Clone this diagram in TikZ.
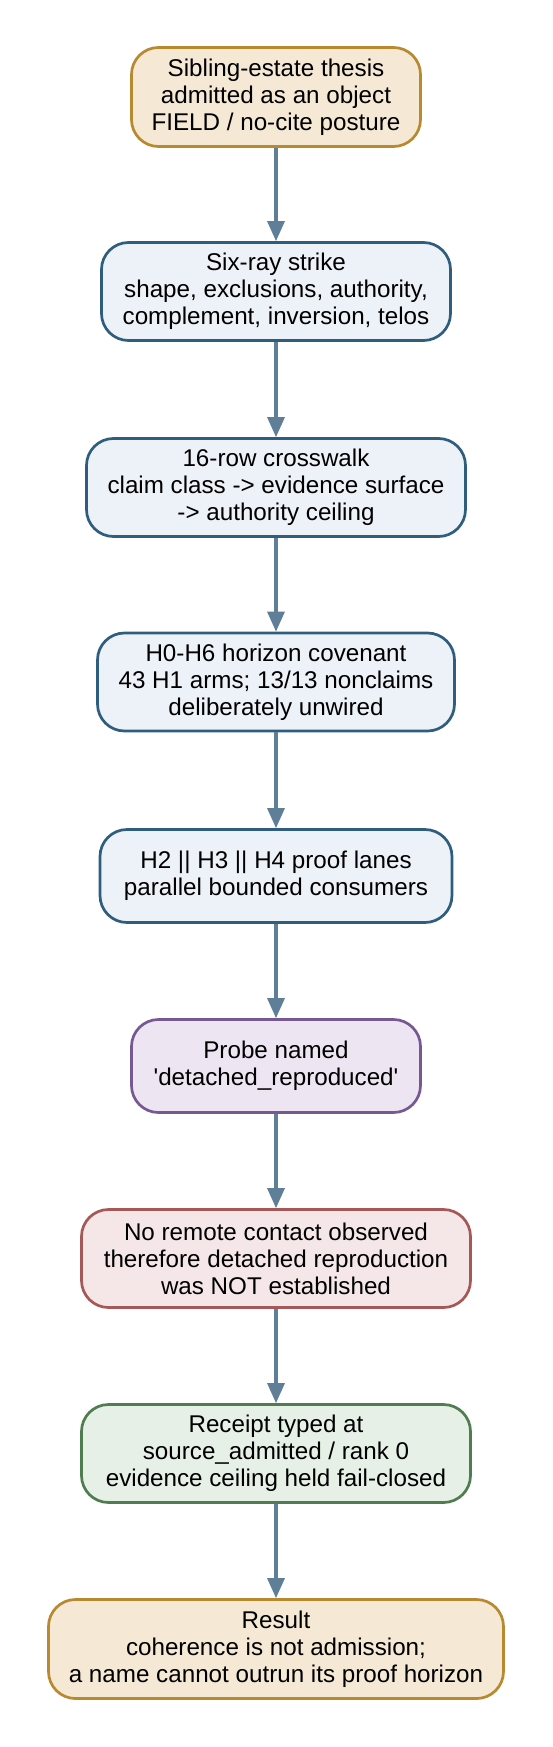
\documentclass[tikz,border=0pt]{standalone}
\usepackage{fontspec}
\setmainfont{Liberation Sans}
\usetikzlibrary{arrows.meta}
\definecolor{goldfill}{HTML}{F5E9D6}
\definecolor{golddraw}{HTML}{B8892F}
\definecolor{bluefill}{HTML}{EDF2F8}
\definecolor{bluedraw}{HTML}{2F5D7E}
\definecolor{purpfill}{HTML}{EDE6F2}
\definecolor{purpdraw}{HTML}{785892}
\definecolor{redfill}{HTML}{F5E7E7}
\definecolor{reddraw}{HTML}{A65858}
\definecolor{grnfill}{HTML}{E7F0E7}
\definecolor{grndraw}{HTML}{4F7D4F}
\definecolor{arrowcol}{HTML}{5E7F97}
\tikzset{
  boxbase/.style={rounded corners=27pt, line width=2.7pt, align=center, inner sep=0pt,
    font=\fontsize{24.2}{27}\selectfont},
  goldbox/.style={boxbase, draw=golddraw, fill=goldfill},
  bluebox/.style={boxbase, draw=bluedraw, fill=bluefill},
  purpbox/.style={boxbase, draw=purpdraw, fill=purpfill},
  redbox/.style={boxbase, draw=reddraw, fill=redfill},
  grnbox/.style={boxbase, draw=grndraw, fill=grnfill},
  flow/.style={draw=arrowcol, line width=3.2pt, -{Triangle[length=20pt,width=17pt]}}
}
\begin{document}
\begin{tikzpicture}[x=1pt,y=-1pt]
\useasboundingbox (0,0) rectangle (552,1747);
\fill[white] (0,0) rectangle (552,1747);
\node[goldbox, minimum width=289pt, minimum height=99pt] (n1) at (276,97)
  {Sibling-estate thesis\\admitted as an object\\FIELD / no-cite posture};
\node[bluebox, minimum width=349pt, minimum height=98pt] (n2) at (276,291.5)
  {Six-ray strike\\shape, exclusions, authority,\\complement, inversion, telos};
\node[bluebox, minimum width=379pt, minimum height=98pt] (n3) at (276,487.5)
  {16-row crosswalk\\claim class -> evidence surface\\-> authority ceiling};
\node[bluebox, minimum width=357pt, minimum height=98pt] (n4) at (276,682)
  {H0-H6 horizon covenant\\43 H1 arms; 13/13 nonclaims\\deliberately unwired};
\node[bluebox, minimum width=352pt, minimum height=93pt] (n5) at (276,876)
  {H2 || H3 || H4 proof lanes\\parallel bounded consumers};
\node[purpbox, minimum width=289pt, minimum height=93pt] (n6) at (276,1066)
  {Probe named\\\textquotesingle detached\_reproduced\textquotesingle};
\node[redbox, minimum width=389pt, minimum height=98pt] (n7) at (276,1258.5)
  {No remote contact observed\\therefore detached reproduction\\was NOT established};
\node[grnbox, minimum width=389pt, minimum height=98pt] (n8) at (276,1453.5)
  {Receipt typed at\\source\_admitted / rank 0\\evidence ceiling held fail-closed};
\node[goldbox, minimum width=455pt, minimum height=99pt] (n9) at (276,1649)
  {Result\\coherence is not admission;\\a name cannot outrun its proof horizon};
\draw[flow] (n1) -- (n2);
\draw[flow] (n2) -- (n3);
\draw[flow] (n3) -- (n4);
\draw[flow] (n4) -- (n5);
\draw[flow] (n5) -- (n6);
\draw[flow] (n6) -- (n7);
\draw[flow] (n7) -- (n8);
\draw[flow] (n8) -- (n9);
\end{tikzpicture}
\end{document}
